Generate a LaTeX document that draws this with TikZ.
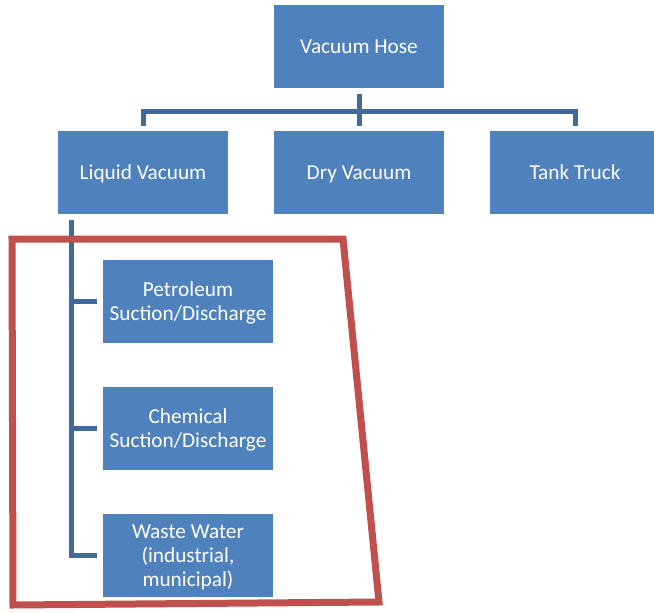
\documentclass[tikz,border=0pt]{standalone}
\usepackage{fontspec}
\setmainfont{Carlito}
\definecolor{boxblue}{HTML}{4F81BD}
\definecolor{lineblue}{HTML}{41699C}
\definecolor{markred}{HTML}{C0504D}
\newcommand\topstrut{\rule{0pt}{19pt}}
\newcommand\botstrut{\rule[-5pt]{0pt}{5pt}}
\begin{document}
\begin{tikzpicture}[x=1pt,y=-1pt,
    box/.style={fill=boxblue,text=white,minimum width=170pt,minimum height=83pt,
      inner sep=0pt,align=center,font=\fontsize{21.3}{24}\selectfont},
    conn/.style={draw=lineblue,line width=5pt}]
      \useasboundingbox (0,0) rectangle (654,613);
      \def \Nodes{
        hose/359/46.5/{Vacuum Hose},
        liquid/143/172/{Liquid Vacuum},
        dry/359/172/{Dry Vacuum},
        tank/575/172/{Tank Truck},
        petro/188/301/{Petroleum\\Suction/Discharge},
        chem/188/428/{Chemical\\Suction/Discharge},
        waste/188/555/{Waste Water\\(industrial,\\municipal)}}
      \foreach \id / \x / \y / \txt in \Nodes{
        \node[box] (\id) at (\x, \y) {\topstrut\txt\botstrut};
      }
      \coordinate (bus) at (359, 111);
      \coordinate (spine) at ([xshift=14pt]liquid.south west);
      \path[conn,shorten <=6pt,shorten >=4pt] (hose) -- (dry);
      \path[conn,shorten <=4pt,shorten >=4pt] (liquid.north) |- (bus) -| (tank.north);
      \path[conn,shorten <=6pt,shorten >=6pt] (spine) |- (waste);
      \foreach \y in {petro, chem}{
        \path[conn,shorten >=6pt] (spine |- \y) -- (\y);
      }
      \draw[markred,line width=7pt] (12,239) -- (343,239) -- (379,602) -- (13,605) -- cycle;
    \end{tikzpicture}
\end{document}
